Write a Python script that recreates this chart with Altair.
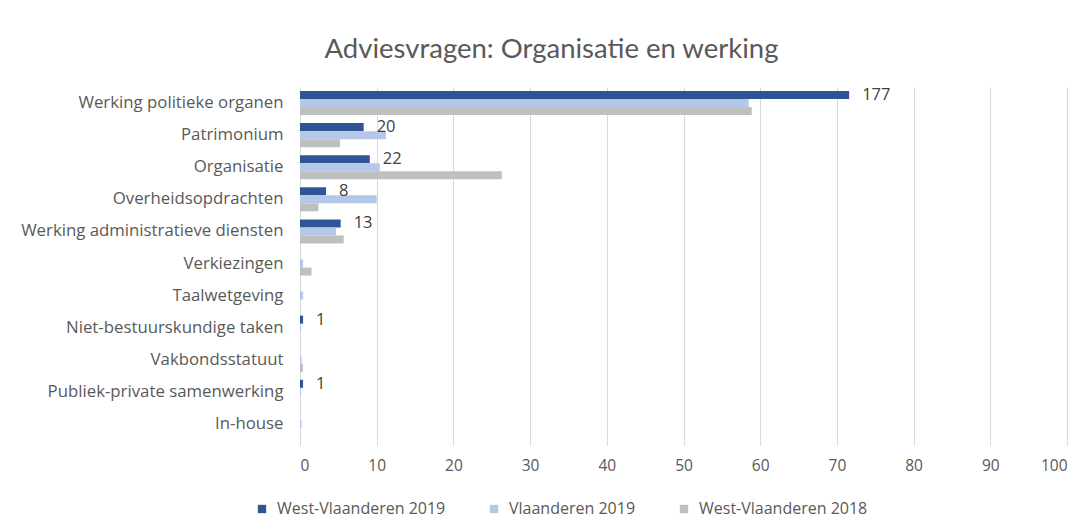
import altair as alt
import pandas as pd

categories = [
    "Werking politieke organen",
    "Patrimonium",
    "Organisatie",
    "Overheidsopdrachten",
    "Werking administratieve diensten",
    "Verkiezingen",
    "Taalwetgeving",
    "Niet-bestuurskundige taken",
    "Vakbondsstatuut",
    "Publiek-private samenwerking",
    "In-house",
]
series = ["West-Vlaanderen 2019", "Vlaanderen 2019", "West-Vlaanderen 2018"]
wvl2019 = [71.6, 8.3, 9.1, 3.4, 5.3, 0.0, 0.0, 0.4, 0.0, 0.4, 0.0]
vl2019 = [58.5, 11.2, 10.4, 10.0, 4.7, 0.4, 0.4, 0.15, 0.2, 0.15, 0.2]
wvl2018 = [58.9, 5.2, 26.3, 2.4, 5.7, 1.5, 0.0, 0.0, 0.4, 0.0, 0.0]
counts = [177, 20, 22, 8, 13, None, None, 1, None, 1, None]
colors = ["#2F5597", "#B4C7E7", "#BFBFBF"]
x_ticks = [0, 10, 20, 30, 40, 50, 60, 70, 80, 90, 100]

rows = []
for s, vals in zip(series, [wvl2019, vl2019, wvl2018]):
    for c, v in zip(categories, vals):
        rows.append({"cat": c, "series": s, "value": v})
df = pd.DataFrame(rows)

lab = pd.DataFrame({
    "cat": categories,
    "series": [series[0]] * len(categories),
    "value": wvl2019,
    "count": counts,
}).dropna(subset=["count"])
lab["count"] = lab["count"].astype(int).astype(str)

FONT = "Open Sans"
TFONT = "Lato"
TXT = "#595959"

y_enc = alt.Y("cat:N", sort=categories, title=None,
              scale=alt.Scale(paddingInner=0.25, paddingOuter=0.125),
              axis=alt.Axis(ticks=False, domain=True, domainColor="#D9D9D9",
                            labelFont=FONT, labelFontSize=16.8, labelColor=TXT,
                            labelPadding=17, labelLimit=300))
yoff = alt.YOffset("series:N", sort=series, scale=alt.Scale(domain=series))
x_enc = alt.X("value:Q", title=None,
              scale=alt.Scale(domain=[0, 100], nice=False),
              axis=alt.Axis(values=x_ticks, grid=True, gridColor="#D9D9D9",
                            domain=False, ticks=True, tickColor="#D9D9D9",
                            tickSize=5, labelFont=FONT, labelFontSize=15.5,
                            labelColor=TXT, labelPadding=13))

bars = alt.Chart(df).mark_bar().encode(
    y=y_enc,
    yOffset=yoff,
    x=x_enc,
    color=alt.Color("series:N", sort=series,
                    scale=alt.Scale(domain=series, range=colors),
                    legend=alt.Legend(title=None, orient="none",
                                      direction="horizontal",
                                      legendX=-46, legendY=414,
                                      symbolType="square", symbolSize=70,
                                      symbolStrokeWidth=0,
                                      labelFont=FONT, labelFontSize=16,
                                      labelColor=TXT, labelOffset=7,
                                      labelLimit=400,
                                      columnPadding=40)),
)

text = alt.Chart(lab).mark_text(align="left", dx=13, font=FONT,
                                fontSize=16.5, color="#404040").encode(
    y=alt.Y("cat:N", sort=categories),
    yOffset=yoff,
    x="value:Q",
    text="count:N",
)

chart = alt.layer(bars, text).properties(
    width=767,
    height=353,
    autosize=alt.AutoSizeParams(type="none"),
    padding={"left": 292, "top": 79, "right": 16, "bottom": 83},
    title=alt.TitleParams("Adviesvragen: Organisatie en werking",
                          font=TFONT, fontSize=27.5, fontWeight="normal",
                          color=TXT, anchor="middle", frame="group",
                          dx=-132, offset=24),
).configure_view(stroke=None)

chart.save("out.html", embed_options={"renderer": "svg", "actions": False})
